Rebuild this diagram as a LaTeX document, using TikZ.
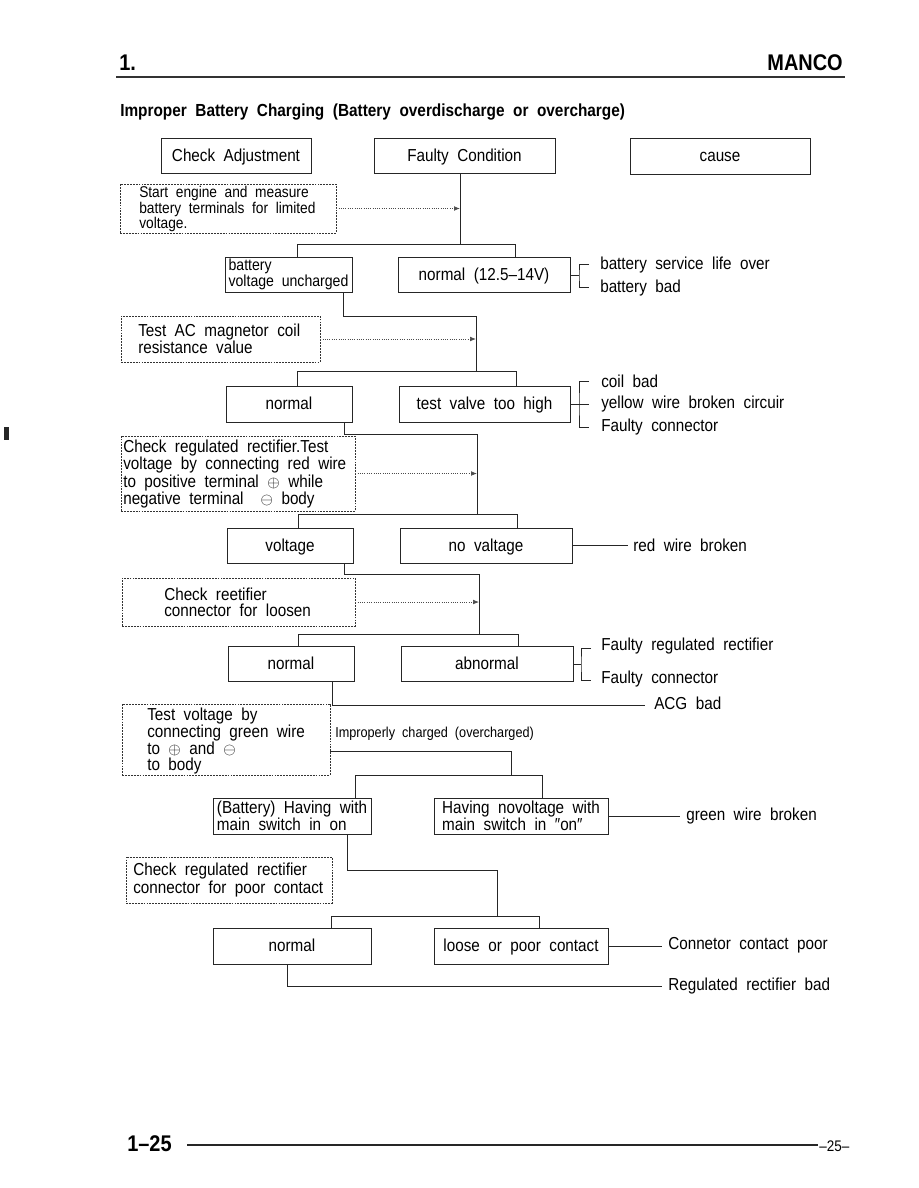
\documentclass[tikz,border=0pt]{standalone}
\usepackage{fontspec}
\setmainfont[FakeStretch=0.88, WordSpace=2.0]{Liberation Sans}
\usetikzlibrary{fit,arrows.meta}
\begin{document}
\begin{tikzpicture}[x=0.75pt,y=-0.75pt,
 ln/.style={draw=black!85, line width=0.6pt},
 box/.style={draw=black!85, line width=0.6pt, inner sep=0pt, align=center, text height=10.5pt, text depth=2pt, font=\fontsize{13}{13}\selectfont},
 boxl/.style={draw=black!85, line width=0.6pt, inner sep=1.5pt, align=left, font=\fontsize{13}{11.5}\selectfont},
 dbox/.style={draw=black!80, line width=0.6pt, dash pattern=on 1.4pt off 0.8pt, inner sep=0pt},
 txt/.style={inner sep=0pt, font=\fontsize{13}{12}\selectfont, align=left, anchor=west},
 darr/.style={draw=black!70, line width=0.5pt, dash pattern=on 0.6pt off 1.1pt, -{Latex[length=4.5pt,width=3.5pt]}},
]
\fill[white] (0,0) rectangle (918,1188);
\useasboundingbox (0,0) rectangle (918,1188);

% header
\node[anchor=base west, inner sep=0pt, font=\fontsize{17}{17}\selectfont\bfseries] (h1) at (119,70) {1.};
\node[anchor=base east, inner sep=0pt, font=\fontsize{17}{17}\selectfont\bfseries] (h2) at (843,70) {MANCO};
\coordinate (r1) at (116,77); \coordinate (r2) at (845,77);
\draw[line width=1.6pt, black!80] (r1) -- (r2);
\node[anchor=base west, inner sep=0pt, font=\fontsize{13.1}{13}\selectfont\bfseries] (title) at (120,116) {Improper Battery Charging (Battery overdischarge or overcharge)};
\fill[black!85] (4,427) rectangle (9,440);

% column headings
\node[box, minimum width=112.5pt, minimum height=26.25pt] (ca) at (236,155.5) {Check Adjustment};
\node[box, minimum width=135.75pt, minimum height=26.25pt] (fc) at (464.5,155.5) {Faulty Condition};
\node[box, minimum width=135pt, minimum height=27pt] (cause) at (720,156) {cause};

% step 1
\node[dbox, fit={(120,184) (336,233)}] (d1) {};
\node[txt, font=\fontsize{11.7}{10.9}\selectfont] (d1t) at (139,209) {Start engine and measure\\battery terminals for limited\\voltage.};
\coordinate (t1) at (460,244); \coordinate (t1l) at (297,244); \coordinate (t1r) at (515,244);
\draw[ln] (fc.south -| t1) -- (t1);
\draw[darr] (d1.east) -- (d1.east -| t1);
\node[boxl, font=\fontsize{12}{12}\selectfont, minimum width=95.25pt, minimum height=26.25pt] (bvu) at (288.5,274.5) {battery\\voltage uncharged};
\node[box, minimum width=129pt, minimum height=26.25pt] (n1) at (484,274.5) {normal (12.5–14V)};
\draw[ln] (bvu.north -| t1l) -- (t1l) -- (t1r) -- (n1.north -| t1r);
\coordinate (k1) at (579,275); \coordinate (k1a) at (589,264); \coordinate (k1b) at (589,287);
\draw[ln] (n1.east |- k1) -- (k1);
\draw[ln] (k1a) -| (k1) |- (k1b);
\node[txt] (c1a) at (600,265) {battery service life over};
\node[txt] (c1b) at (600,288) {battery bad};

% step 2
\coordinate (u2a) at (343,316); \coordinate (t2) at (476,371);
\coordinate (t2l) at (297,371); \coordinate (t2r) at (516,371);
\draw[ln] (bvu.south -| u2a) -- (u2a) -| (t2);
\node[dbox, fit={(121,316) (320,362)}] (d2) {};
\node[txt] (d2t) at (138,339) {Test AC magnetor coil\\resistance value};
\draw[darr] (d2.east) -- (d2.east -| t2);
\node[box, minimum width=94.5pt, minimum height=27pt] (nm2) at (289,404) {normal};
\node[box, minimum width=128.25pt, minimum height=27pt] (tv) at (484.5,404) {test valve too high};
\draw[ln] (nm2.north -| t2l) -- (t2l) -- (t2r) -- (tv.north -| t2r);
\coordinate (k2) at (579,404); \coordinate (k2a) at (589,381); \coordinate (k2m) at (589,404); \coordinate (k2b) at (589,427);
\draw[ln] (tv.east |- k2) -- (k2m);
\draw[ln] (k2a) -| (k2) |- (k2b);
\node[txt] (c2a) at (601,381) {coil bad};
\node[txt] (c2b) at (601,404) {yellow wire broken circuir};
\node[txt] (c2c) at (601,427) {Faulty connector};

% step 3
\coordinate (u3a) at (344,434); \coordinate (t3) at (477,514);
\coordinate (t3l) at (298,514); \coordinate (t3r) at (517,514);
\draw[ln] (nm2.south -| u3a) -- (u3a) -| (t3);
\node[dbox, fit={(121,436) (355,511)}] (d3) {};
\node[txt, font=\fontsize{13}{11.7}\selectfont] (d3t) at (123,474) {Check regulated rectifier.Test\\voltage by connecting red wire\\to positive terminal $\oplus$ while\\negative terminal \ $\ominus$ body};
\draw[darr] (d3.east) -- (d3.east -| t3);
\node[box, minimum width=94.5pt, minimum height=26.25pt] (vo) at (290,545.5) {voltage};
\node[box, minimum width=129pt, minimum height=26.25pt] (nv) at (486,545.5) {no valtage};
\draw[ln] (vo.north -| t3l) -- (t3l) -- (t3r) -- (nv.north -| t3r);
\coordinate (e3) at (628,545.5);
\draw[ln] (nv.east) -- (nv.east -| e3);
\node[txt] (c3) at (633,545.5) {red wire broken};

% step 4
\coordinate (u4a) at (344,574); \coordinate (t4) at (479,634);
\coordinate (t4l) at (298,634); \coordinate (t4r) at (518,634);
\draw[ln] (vo.south -| u4a) -- (u4a) -| (t4);
\node[dbox, fit={(122,578) (355,626)}] (d4) {};
\node[txt] (d4t) at (164,602) {Check reetifier\\connector for loosen};
\draw[darr] (d4.east) -- (d4.east -| t4);
\node[box, minimum width=94.5pt, minimum height=26.25pt] (nm3) at (291,663.5) {normal};
\node[box, minimum width=129pt, minimum height=26.25pt] (ab) at (487,663.5) {abnormal};
\draw[ln] (nm3.north -| t4l) -- (t4l) -- (t4r) -- (ab.north -| t4r);
\coordinate (k4) at (581,664); \coordinate (k4a) at (591,648); \coordinate (k4b) at (591,680);
\draw[ln] (ab.east |- k4) -- (k4);
\draw[ln] (k4a) -| (k4) |- (k4b);
\node[txt] (c4a) at (601,646) {Faulty regulated rectifier};
\node[txt] (c4b) at (601,679) {Faulty connector};
\coordinate (u5a) at (332,705); \coordinate (e5) at (645,705);
\draw[ln] (nm3.south -| u5a) -- (u5a) -- (e5);
\node[txt] (c5) at (654,703) {ACG bad};

% step 5
\node[dbox, fit={(122,704) (330,775)}] (d5) {};
\node[txt] (d5t) at (147,741) {Test voltage by\\connecting green wire\\to $\oplus$ and $\ominus$\\to body};
\node[txt, font=\fontsize{10.8}{11}\selectfont] (oc) at (335,734) {Improperly charged (overcharged)};
\coordinate (u6a) at (330,751); \coordinate (t6) at (511,775);
\coordinate (t6l) at (355,775); \coordinate (t6r) at (542,775);
\draw[ln] (d5.east |- u6a) -| (t6);
\node[boxl, minimum width=118.5pt, minimum height=27pt] (bh) at (292,816) {(Battery) Having with\\main switch in on};
\node[boxl, minimum width=130.5pt, minimum height=27pt] (hn) at (521,816) {Having novoltage with\\main switch in ″on″};
\draw[ln] (bh.north -| t6l) -- (t6l) -- (t6r) -- (hn.north -| t6r);
\coordinate (e6) at (680,816);
\draw[ln] (hn.east) -- (hn.east -| e6);
\node[txt] (c6) at (686,816) {green wire broken};

% step 6
\coordinate (u7a) at (347,870); \coordinate (t7) at (497,916);
\coordinate (t7l) at (331,916); \coordinate (t7r) at (539,916);
\draw[ln] (bh.south -| u7a) -- (u7a) -| (t7);
\node[dbox, fit={(126,857) (332,903)}] (d6) {};
\node[txt] (d6t) at (133,880) {Check regulated rectifier\\connector for poor contact};
\node[box, minimum width=118.5pt, minimum height=27pt] (nm4) at (292,946) {normal};
\node[box, minimum width=130.5pt, minimum height=27pt] (lp) at (521,946) {loose or poor contact};
\draw[ln] (nm4.north -| t7l) -- (t7l) -- (t7r) -- (lp.north -| t7r);
\coordinate (e7) at (662,946);
\draw[ln] (lp.east) -- (lp.east -| e7);
\node[txt] (c7) at (668,945) {Connetor contact poor};
\coordinate (u8a) at (287,986); \coordinate (e8) at (662,986);
\draw[ln] (nm4.south -| u8a) -- (u8a) -- (e8);
\node[txt] (c8) at (668,986) {Regulated rectifier bad};

% footer
\node[anchor=base west, inner sep=0pt, font=\fontsize{17}{17}\selectfont\bfseries] (f1) at (127,1151) {1–25};
\coordinate (r3) at (187,1145); \coordinate (r4) at (818,1145);
\draw[line width=1.5pt, black!85] (r3) -- (r4);
\node[anchor=base west, inner sep=0pt, font=\fontsize{11.5}{11}\selectfont] (f2) at (819,1151) {–25–};
\end{tikzpicture}
\end{document}
